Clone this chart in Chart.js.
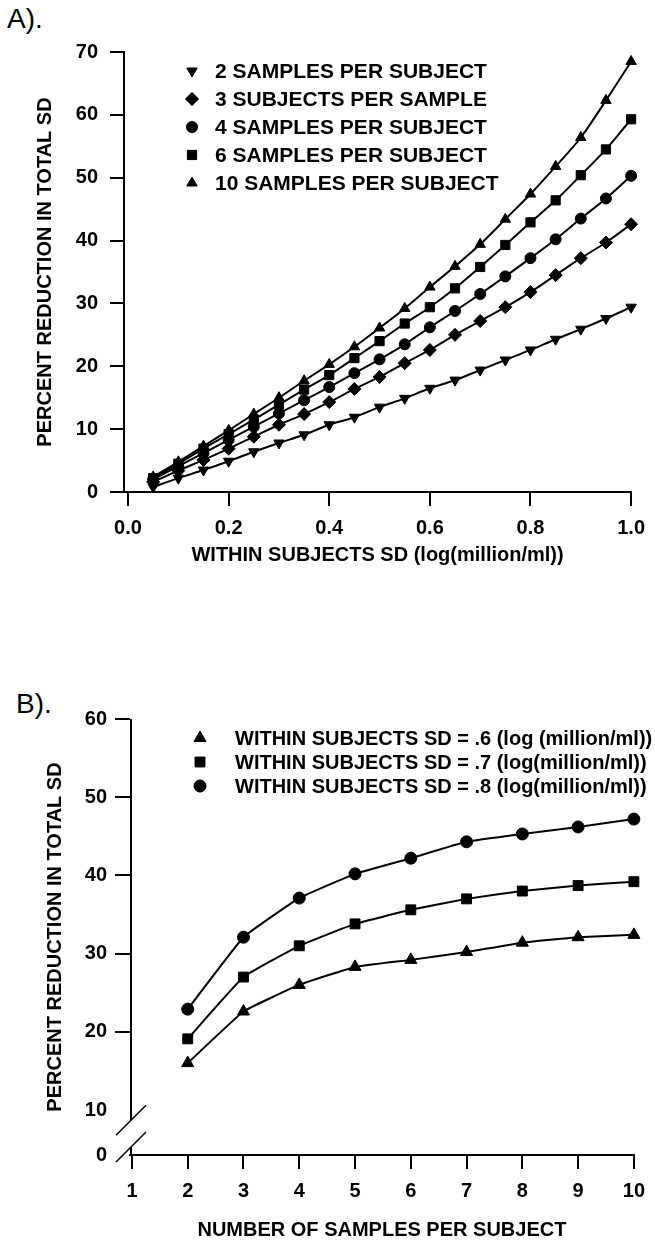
<!DOCTYPE html>
<html lang="en">
<head>
<meta charset="UTF-8">
<title>Percent reduction in total SD</title>
<script src="https://cdn.jsdelivr.net/npm/chart.js"></script>
<style>
  html, body { margin: 0; padding: 0; background: #fff; }
  body { width: 655px; height: 1242px; position: relative; overflow: hidden;
         font-family: "Liberation Sans", Arial, sans-serif; }
  canvas { position: absolute; left: 0; }
  #chartA { top: 0; }
  #chartB { top: 600px; }
  .panel-label { position: absolute; font-size: 28px; line-height: 1; color: #000; }
</style>
</head>
<body>
<div class="panel-label" style="left:7px; top:5px;">A).</div>
<div class="panel-label" style="left:16px; top:690px;">B).</div>
<canvas id="chartA" width="655" height="600"></canvas>
<canvas id="chartB" width="655" height="642"></canvas>

<script>
// ---- panel A data ----
const withinSD = [0.05, 0.10, 0.15, 0.20, 0.25, 0.30, 0.35, 0.40, 0.45, 0.50,
                  0.55, 0.60, 0.65, 0.70, 0.75, 0.80, 0.85, 0.90, 0.95, 1.00];
const twoSamples   = [0.8, 2.2, 3.5, 4.9, 6.4, 7.8, 9.1, 10.7, 11.9, 13.5, 14.9, 16.5, 17.8, 19.4, 21.0, 22.6, 24.3, 25.9, 27.6, 29.4];
const threeSubj    = [1.6, 3.4, 5.1, 6.9, 8.8, 10.7, 12.4, 14.3, 16.4, 18.3, 20.5, 22.6, 25.0, 27.2, 29.4, 31.8, 34.5, 37.2, 39.7, 42.6];
const fourSamples  = [2.0, 4.1, 6.2, 8.3, 10.4, 12.5, 14.6, 16.7, 18.9, 21.1, 23.5, 26.2, 28.8, 31.5, 34.3, 37.2, 40.2, 43.5, 46.7, 50.3];
const sixSamples   = [2.2, 4.5, 6.9, 9.2, 11.5, 13.9, 16.3, 18.6, 21.3, 24.0, 26.8, 29.4, 32.4, 35.8, 39.3, 42.9, 46.4, 50.4, 54.5, 59.3];
const tenSamples   = [2.4, 4.8, 7.3, 9.8, 12.4, 15.0, 17.7, 20.3, 23.1, 26.1, 29.2, 32.6, 35.9, 39.4, 43.4, 47.4, 51.8, 56.4, 62.3, 68.5];
const labelsA = ['2 SAMPLES PER SUBJECT', '3 SUBJECTS PER SAMPLE', '4 SAMPLES PER SUBJECT',
                 '6 SAMPLES PER SUBJECT', '10 SAMPLES PER SUBJECT'];
const xTicksA = [0.0, 0.2, 0.4, 0.6, 0.8, 1.0];

// ---- panel B data ----
const samplesPerSubject = [2, 3, 4, 5, 6, 7, 8, 9, 10];
const sd06 = [16.0, 22.6, 26.0, 28.3, 29.2, 30.2, 31.4, 32.1, 32.4];
const sd07 = [19.1, 27.0, 31.0, 33.8, 35.6, 37.0, 38.0, 38.7, 39.2];
const sd08 = [22.9, 32.1, 37.1, 40.2, 42.2, 44.3, 45.3, 46.2, 47.2];
const labelsB = ['WITHIN SUBJECTS SD = .6 (log (million/ml))',
                 'WITHIN SUBJECTS SD = .7 (log(million/ml))',
                 'WITHIN SUBJECTS SD = .8 (log(million/ml))'];
const xTicksB = [1, 2, 3, 4, 5, 6, 7, 8, 9, 10];
const yTicksB = [10, 20, 30, 40, 50, 60];
const yBottomB = 4.25;   // where "0" sits below the axis break

const FONT = '"Liberation Sans", Arial, Helvetica, sans-serif';
const bold20 = { family: FONT, size: 20, weight: 'bold' };

function toXY(xs, ys) {
  return xs.map((x, i) => ({ x: x, y: ys[i] }));
}

function series(label, xs, ys, style, radius, rotation, smooth) {
  return {
    label: label,
    data: toXY(xs, ys),
    borderColor: '#000',
    borderWidth: 2,
    backgroundColor: '#000',
    pointStyle: style,
    pointRadius: radius,
    pointRotation: rotation || 0,
    pointBackgroundColor: '#000',
    pointBorderColor: '#000',
    pointBorderWidth: 1,
    cubicInterpolationMode: smooth ? 'monotone' : 'default',
    tension: smooth ? 0.4 : 0.1,
    fill: false,
    clip: false
  };
}

// legend drawn inside the plot area, rows placed like the original figure
const insideLegend = {
  id: 'insideLegend',
  afterDraw(chart, args, opts) {
    const ctx = chart.ctx;
    ctx.save();
    ctx.fillStyle = '#000';
    ctx.font = 'bold ' + opts.fontSize + 'px ' + FONT;
    ctx.textBaseline = 'middle';
    opts.order.forEach((di, row) => {
      const ds = chart.data.datasets[di];
      const y = opts.ys[row];
      Chart.helpers.drawPoint(ctx, {
        pointStyle: ds.pointStyle,
        radius: ds.pointRadius,
        rotation: ds.pointRotation,
        borderWidth: 1
      }, opts.markerX, y);
      ctx.fillStyle = '#000';
      ctx.fill();
      ctx.fillText(ds.label, opts.textX, y + 1);
    });
    ctx.restore();
  }
};

// broken y axis for panel B
const axisBreak = {
  id: 'axisBreak',
  afterDraw(chart) {
    const ctx = chart.ctx;
    const y = chart.scales.y;
    const x0 = chart.chartArea.left + 1;
    const yUp = y.getPixelForValue(8.7);
    const yLow = chart.chartArea.bottom - 8;
    ctx.save();
    ctx.strokeStyle = '#000';
    ctx.lineWidth = 2;
    ctx.beginPath();
    ctx.moveTo(x0, chart.chartArea.top);
    ctx.lineTo(x0, yUp);
    ctx.moveTo(x0, yLow);
    ctx.lineTo(x0, chart.chartArea.bottom);
    ctx.stroke();
    ctx.lineWidth = 1.5;
    ctx.beginPath();
    ctx.moveTo(x0 - 15, yUp + 15);
    ctx.lineTo(x0 + 15, yUp - 15);
    ctx.moveTo(x0 - 15, yLow + 15);
    ctx.lineTo(x0 + 15, yLow - 15);
    ctx.stroke();
    ctx.restore();
  }
};

// Panel A
new Chart(document.getElementById('chartA'), {
  type: 'line',
  data: {
    datasets: [
      series(labelsA[0], withinSD, twoSamples, 'triangle', 6, 180, true),
      series(labelsA[1], withinSD, threeSubj, 'rectRot', 6.5, 0, true),
      series(labelsA[2], withinSD, fourSamples, 'circle', 5.5, 0, true),
      series(labelsA[3], withinSD, sixSamples, 'rect', 6.5, 0, true),
      series(labelsA[4], withinSD, tenSamples, 'triangle', 6, 0, true)
    ]
  },
  options: {
    responsive: false,
    animation: false,
    layout: { padding: { top: 52, right: 15, left: 0, bottom: 0 } },
    plugins: {
      legend: { display: false },
      tooltip: { enabled: false },
      insideLegend: { order: [0, 1, 2, 3, 4], markerX: 192, textX: 215, ys: [71, 99, 127, 155, 183], fontSize: 21 }
    },
    scales: {
      x: {
        type: 'linear',
        min: -0.008,
        max: 1.0,
        afterBuildTicks: s => { s.ticks = xTicksA.map(v => ({ value: v })); },
        afterFit: s => { s.height = 108; },
        border: { color: '#000', width: 2 },
        grid: { drawOnChartArea: false, color: '#000', lineWidth: 2, tickLength: 14 },
        ticks: { color: '#000', font: bold20, padding: 10, maxRotation: 0, callback: v => Number(v).toFixed(1) },
        title: { display: true, text: 'WITHIN SUBJECTS SD (log(million/ml))', color: '#000', font: bold20, padding: { top: 0, bottom: 33 } }
      },
      y: {
        min: 0,
        max: 70,
        afterFit: s => { s.width = 124; },
        border: { color: '#000', width: 2 },
        grid: { drawOnChartArea: false, color: '#000', lineWidth: 2, tickLength: 14 },
        ticks: { color: '#000', font: bold20, padding: 12, stepSize: 10 },
        title: { display: true, text: 'PERCENT REDUCTION IN TOTAL SD', color: '#000', font: bold20, padding: { top: 33, bottom: 0 } }
      }
    }
  },
  plugins: [insideLegend]
});

// Panel B
new Chart(document.getElementById('chartB'), {
  type: 'line',
  data: {
    datasets: [
      series(labelsB[0], samplesPerSubject, sd06, 'triangle', 7),
      series(labelsB[1], samplesPerSubject, sd07, 'rect', 7),
      series(labelsB[2], samplesPerSubject, sd08, 'circle', 6)
    ]
  },
  options: {
    responsive: false,
    animation: false,
    layout: { padding: { top: 119, right: 12, left: 0, bottom: 0 } },
    plugins: {
      legend: { display: false },
      tooltip: { enabled: false },
      insideLegend: { order: [0, 1, 2], markerX: 200, textX: 235, ys: [138, 162, 186], fontSize: 20 }
    },
    scales: {
      x: {
        type: 'linear',
        min: 0.965,
        max: 10,
        afterBuildTicks: s => { s.ticks = xTicksB.map(v => ({ value: v })); },
        afterFit: s => { s.height = 87; },
        border: { color: '#000', width: 2 },
        grid: { drawOnChartArea: false, color: '#000', lineWidth: 2, tickLength: 14 },
        ticks: { color: '#000', font: bold20, padding: 10, maxRotation: 0 },
        title: { display: true, text: 'NUMBER OF SAMPLES PER SUBJECT', color: '#000', font: bold20, padding: { top: 0, bottom: 0 } }
      },
      y: {
        min: yBottomB,
        max: 60,
        afterBuildTicks: s => { s.ticks = [yBottomB].concat(yTicksB).map(v => ({ value: v })); },
        afterFit: s => { s.width = 130; },
        border: { display: false },
        grid: {
          drawOnChartArea: false, lineWidth: 2, tickLength: 15,
          tickColor: c => (c.tick && c.tick.value < 15 ? 'rgba(0,0,0,0)' : '#000')
        },
        ticks: { color: '#000', font: bold20, padding: 8, callback: v => (v < 5 ? '0' : v) },
        title: { display: true, text: 'PERCENT REDUCTION IN TOTAL SD', color: '#000', font: bold20, padding: { top: 43, bottom: 0 } }
      }
    }
  },
  plugins: [axisBreak, insideLegend]
});
</script>
</body>
</html>
